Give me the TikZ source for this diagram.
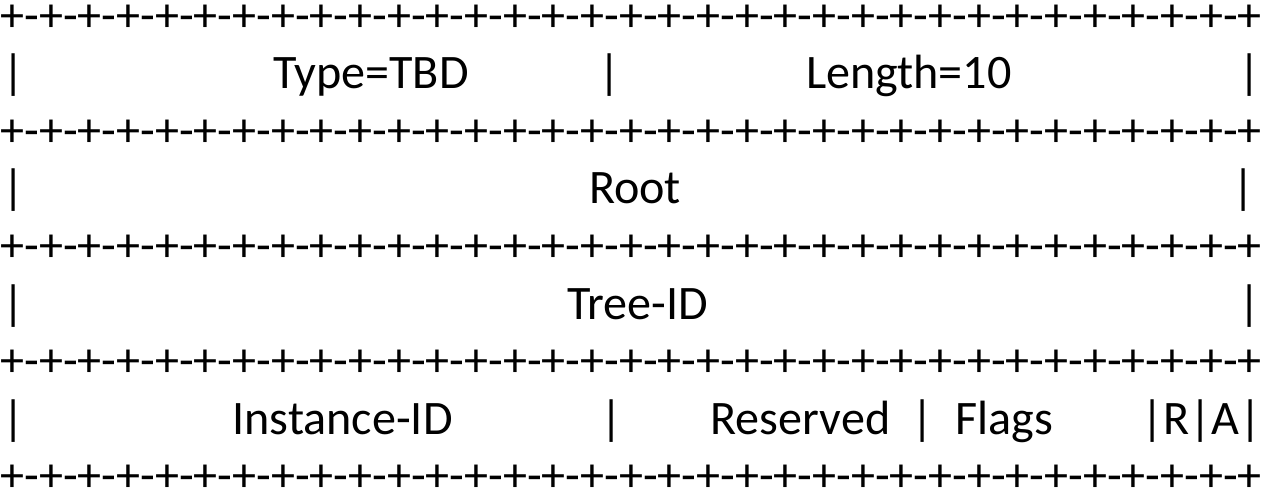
\documentclass[tikz,border=0pt]{standalone}
\usepackage{fontspec}
\setmainfont{Carlito}
\newcommand{\bline}{+-+-+-+-+-+-+-+-+-+-+-+-+-+-+-+-+-+-+-+-+-+-+-+-+-+-+-+-+-+-+-+-+}
\begin{document}
\begin{tikzpicture}[x=0.5pt,y=-0.5pt,
  txt/.style={font=\fontsize{24.05pt}{28pt}\selectfont,inner sep=0pt,anchor=base},
  brd/.style={txt,anchor=base west}]
\useasboundingbox (0,0) rectangle (1264,488);
% border lines
\node[brd] (b0) at (0,31) {\bline};
\node[brd] (b1) at (0,146.2) {\bline};
\node[brd] (b2) at (0,261.4) {\bline};
\node[brd] (b3) at (0,376.6) {\bline};
\node[brd] (b4) at (0,491.8) {\bline};
% row 1
\node[txt] (r1l) at (13.5,88.6) {|};
\node[txt] (type) at (371,88.6) {Type=TBD};
\node[txt] (r1m) at (610,88.6) {|};
\node[txt] (len) at (909,88.6) {Length=10};
\node[txt] (r1r) at (1250,88.6) {|};
% row 2
\node[txt] (r2l) at (13.5,203.8) {|};
\node[txt] (root) at (635,203.8) {Root};
\node[txt] (r2r) at (1244,203.8) {|};
% row 3
\node[txt] (r3l) at (13.5,319) {|};
\node[txt] (tree) at (637.5,319) {Tree-ID};
\node[txt] (r3r) at (1250,319) {|};
% row 4
\node[txt] (r4l) at (13.5,434.2) {|};
\node[txt] (inst) at (342.5,434.2) {Instance-ID};
\node[txt] (r4a) at (612,434.2) {|};
\node[txt] (res) at (800.5,434.2) {Reserved};
\node[txt] (r4b) at (923,434.2) {|};
\node[txt] (flags) at (1004.5,434.2) {Flags};
\node[txt] (ra) at (1201.5,434.2) {|R|A|};
\end{tikzpicture}
\end{document}
